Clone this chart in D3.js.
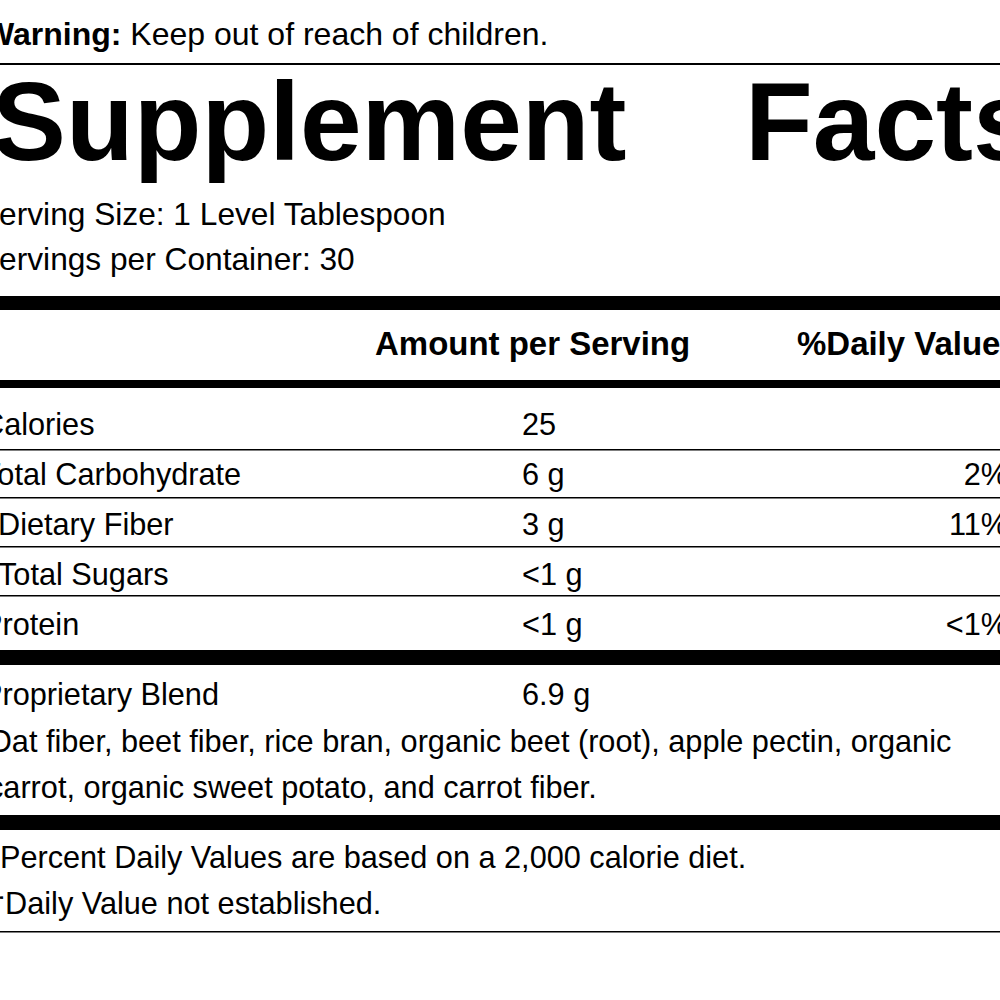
<!DOCTYPE html>
<html><head><meta charset="utf-8">
<script src="https://cdn.jsdelivr.net/npm/d3@7"></script>
<style>body{margin:0;background:#fff}svg{display:block}</style>
</head><body>
<script>
const rowLabels = ["Calories","Total Carbohydrate","Dietary Fiber","Total Sugars","Protein"];
const rowAmounts = ["25","6 g","3 g","<1 g","<1 g"];
const rowDV = ["","2%","11%","","<1%"];
const rowIndent = [0,0,1,1,0];
const blendLabel = "Proprietary Blend";
const blendAmount = "6.9 g";
const blendText = ["Oat fiber, beet fiber, rice bran, organic beet (root), apple pectin, organic","carrot, organic sweet potato, and carrot fiber."];
const footnotes = ["*Percent Daily Values are based on a 2,000 calorie diet.","†Daily Value not established."];

const svg = d3.select("body").append("svg").attr("width",1000).attr("height",1000);
const F = "'Liberation Sans', Arial, sans-serif";
function t(x,y,s,size,weight,anchor,sx){
  return svg.append("text").attr("transform",`translate(${x},${y}) scale(${sx||0.99},1)`)
    .attr("font-family",F).attr("font-size",size).attr("font-weight",weight||"normal")
    .attr("text-anchor",anchor||"start").attr("fill","#000").text(s);
}
function bar(y,h){svg.append("rect").attr("x",0).attr("y",y).attr("width",1000).attr("height",h).attr("fill","#000");}

const w = t(-16,45,"",32,"normal","start",1.0);
w.append("tspan").attr("font-weight","bold").text("Warning:");
w.append("tspan").text(" Keep out of reach of children.");
bar(63,2);
t(-8,160,"Supplement",112,"bold");
t(745,160,"Facts",112,"bold");
t(-22,225,"Serving Size: 1 Level Tablespoon",32);
t(-22,270,"Servings per Container: 30",32);
bar(296,14);
t(375,355,"Amount per Serving",34,"bold","start",0.97);
t(797,355,"%Daily Value",34,"bold","start",0.97);
bar(380,8);

const y = d3.scalePoint().domain(d3.range(rowLabels.length)).range([435,635]);
const lineY = [449,497,546,595];
rowLabels.forEach((l,i)=>{
  t(-18+rowIndent[i]*16,y(i),l,31);
  t(522,y(i),rowAmounts[i],31);
  t(1008,y(i),rowDV[i],31,"normal","end");
  if(i<lineY.length) bar(lineY[i],1.5);
});
bar(650,15);
t(-18,705,blendLabel,31);
t(522,705,blendAmount,31);
blendText.forEach((s,i)=>t(-12,752+i*46,s,31));
bar(815,15);
footnotes.forEach((s,i)=>t(-12,868+i*46,s,31));
bar(931,1.5);
</script>
</body></html>
